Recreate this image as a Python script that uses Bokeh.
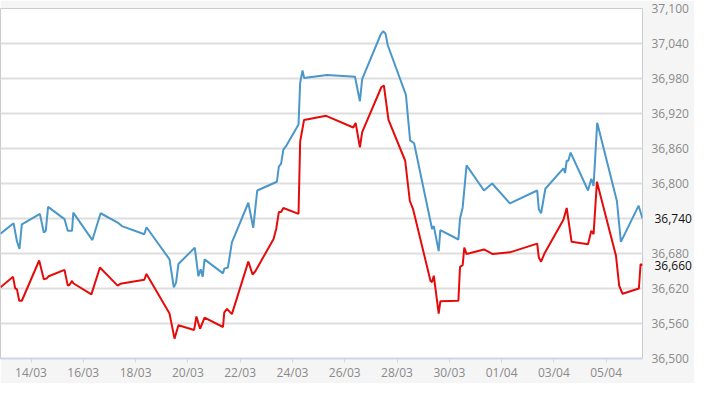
import pandas as pd
from bokeh.plotting import figure
from bokeh.models import (Range1d, FixedTicker, NumeralTickFormatter,
                          DatetimeTickFormatter, LinearAxis, ColumnDataSource)
from bokeh.embed import file_html
from bokeh.resources import INLINE

# ---------------- data ----------------
blue_times = [
    "2018-03-12 20:00", "2018-03-13 08:00", "2018-03-13 11:05", "2018-03-13 13:25",
    "2018-03-13 15:35", "2018-03-14 08:10", "2018-03-14 11:45", "2018-03-14 13:35",
    "2018-03-14 15:40", "2018-03-15 06:45", "2018-03-15 09:45", "2018-03-15 13:40",
    "2018-03-15 14:50", "2018-03-16 08:20", "2018-03-16 11:25", "2018-03-16 15:55",
    "2018-03-17 08:25", "2018-03-17 11:25", "2018-03-18 08:00", "2018-03-18 10:00",
    "2018-03-19 07:10", "2018-03-19 11:05", "2018-03-19 13:10", "2018-03-19 15:20",
    "2018-03-20 06:20", "2018-03-20 09:40", "2018-03-20 11:45", "2018-03-20 13:35",
    "2018-03-20 15:20", "2018-03-21 08:15", "2018-03-21 09:25", "2018-03-21 12:45",
    "2018-03-21 16:25", "2018-03-22 07:30", "2018-03-22 12:00", "2018-03-22 15:40",
    "2018-03-23 09:45", "2018-03-23 11:30", "2018-03-23 13:35", "2018-03-23 15:40",
    "2018-03-23 18:05", "2018-03-24 05:35", "2018-03-24 07:05", "2018-03-24 09:15",
    "2018-03-24 10:40", "2018-03-25 07:50", "2018-03-26 09:25", "2018-03-26 13:55",
    "2018-03-26 16:00", "2018-03-27 08:55", "2018-03-27 11:10", "2018-03-27 13:25",
    "2018-03-27 15:30", "2018-03-28 08:10", "2018-03-28 12:00", "2018-03-28 15:40",
    "2018-03-29 08:10", "2018-03-29 09:45", "2018-03-29 14:15", "2018-03-29 15:45",
    "2018-03-30 08:20", "2018-03-30 09:50", "2018-03-30 12:15", "2018-03-30 15:50",
    "2018-03-31 07:50", "2018-03-31 15:20", "2018-04-01 07:35", "2018-04-02 08:40",
    "2018-04-02 10:10", "2018-04-02 12:15", "2018-04-02 16:10", "2018-04-03 08:45",
    "2018-04-03 10:15", "2018-04-03 11:45", "2018-04-03 13:15", "2018-04-03 15:20",
    "2018-04-04 07:20", "2018-04-04 10:20", "2018-04-04 12:25", "2018-04-04 15:45",
    "2018-04-05 09:50", "2018-04-05 13:30", "2018-04-06 05:45", "2018-04-06 09:20",
]
blue_values = [
    36714, 36732, 36701, 36688, 36730, 36748, 36716, 36719, 36760, 36739,
    36719, 36719, 36750, 36703, 36722, 36749, 36732, 36727, 36713, 36725,
    36670, 36622, 36630, 36662, 36690, 36641, 36653, 36640, 36670, 36646,
    36654, 36656, 36699, 36767, 36724, 36788, 36803, 36829, 36834, 36858,
    36864, 36901, 36973, 36994, 36981, 36986, 36983, 36941, 36979, 37055,
    37061, 37057, 37037, 36952, 36874, 36869, 36722, 36727, 36684, 36720,
    36704, 36740, 36759, 36831, 36788, 36800, 36766, 36788, 36756, 36749,
    36791, 36826, 36818, 36839, 36839, 36853, 36788, 36808, 36796, 36904,
    36770, 36700, 36762, 36740,
]

red_times = [
    "2018-03-12 20:00", "2018-03-13 07:30", "2018-03-13 09:30", "2018-03-13 11:05",
    "2018-03-13 13:10", "2018-03-13 15:35", "2018-03-14 07:30", "2018-03-14 11:45",
    "2018-03-14 14:10", "2018-03-14 16:15", "2018-03-15 06:45", "2018-03-15 09:45",
    "2018-03-15 11:15", "2018-03-15 13:40", "2018-03-15 14:50", "2018-03-16 07:25",
    "2018-03-16 15:15", "2018-03-17 07:30", "2018-03-17 10:00", "2018-03-18 08:00",
    "2018-03-18 10:00", "2018-03-19 07:10", "2018-03-19 11:45", "2018-03-19 15:20",
    "2018-03-20 05:45", "2018-03-20 07:50", "2018-03-20 11:10", "2018-03-20 15:20",
    "2018-03-21 08:15", "2018-03-21 09:25", "2018-03-21 11:55", "2018-03-21 16:25",
    "2018-03-22 07:30", "2018-03-22 11:25", "2018-03-22 14:05", "2018-03-23 06:40",
    "2018-03-23 09:05", "2018-03-23 11:30", "2018-03-23 13:35", "2018-03-23 15:40",
    "2018-03-24 05:35", "2018-03-24 07:05", "2018-03-24 10:40", "2018-03-25 06:55",
    "2018-03-26 07:50", "2018-03-26 10:00", "2018-03-26 13:55", "2018-03-26 16:00",
    "2018-03-27 09:35", "2018-03-27 11:55", "2018-03-27 16:10", "2018-03-28 07:30",
    "2018-03-28 11:45", "2018-03-28 14:45", "2018-03-29 06:45", "2018-03-29 08:10",
    "2018-03-29 09:45", "2018-03-29 14:15", "2018-03-29 15:45", "2018-03-30 08:20",
    "2018-03-30 09:50", "2018-03-30 12:15", "2018-03-30 13:45", "2018-03-30 15:50",
    "2018-03-31 07:50", "2018-03-31 15:55", "2018-04-01 07:35", "2018-04-02 08:40",
    "2018-04-02 10:10", "2018-04-02 12:15", "2018-04-02 15:35", "2018-04-03 08:45",
    "2018-04-03 11:45", "2018-04-03 16:15", "2018-04-04 07:20", "2018-04-04 10:20",
    "2018-04-04 12:25", "2018-04-04 15:30", "2018-04-05 09:00", "2018-04-05 11:55",
    "2018-04-05 15:00", "2018-04-06 06:00", "2018-04-06 07:35", "2018-04-06 09:20",
]
red_values = [
    36622, 36640, 36620, 36619, 36599, 36599, 36668, 36636, 36637, 36641,
    36652, 36625, 36626, 36633, 36629, 36610, 36656, 36625, 36628, 36635,
    36645, 36577, 36534, 36557, 36549, 36572, 36551, 36570, 36554, 36579,
    36585, 36576, 36666, 36644, 36650, 36705, 36722, 36751, 36751, 36758,
    36748, 36872, 36909, 36916, 36896, 36904, 36862, 36888, 36965, 36968,
    36909, 36839, 36770, 36756, 36633, 36631, 36642, 36577, 36598, 36599,
    36657, 36660, 36690, 36679, 36687, 36679, 36682, 36697, 36673, 36666,
    36681, 36738, 36758, 36700, 36696, 36719, 36713, 36803, 36676, 36625,
    36611, 36620, 36662, 36660,
]

x_tick_dates = ["2018-03-14", "2018-03-16", "2018-03-18", "2018-03-20",
                "2018-03-22", "2018-03-24", "2018-03-26", "2018-03-28",
                "2018-03-30", "2018-04-01", "2018-04-03", "2018-04-05"]
y_ticks = [36500, 36560, 36620, 36680, 36740, 36800, 36860,
           36920, 36980, 37040, 37100]

# ---------------- figure ----------------
FONT = "Open Sans"
BLUE = "#4a97c9"
RED = "#e60b0b"
PANEL = "#f5f5f5"
LABEL_GREY = "#8a8a8a"

bt = pd.to_datetime(blue_times)
rt = pd.to_datetime(red_times)
blue_src = ColumnDataSource(dict(t=bt, v=blue_values))
red_src = ColumnDataSource(dict(t=rt, v=red_values))

p = figure(width=694, height=383, x_axis_type="datetime",
           y_axis_location="right", output_backend="svg",
           toolbar_location=None,
           x_range=Range1d(bt[0], bt[-1]),
           y_range=Range1d(y_ticks[0], y_ticks[-1]),
           min_border_left=0, min_border_top=8,
           min_border_right=47, min_border_bottom=16)

p.background_fill_color = "white"
p.border_fill_color = PANEL
p.outline_line_color = "#cccccc"
p.outline_line_width = 1

p.line("t", "v", source=blue_src, line_color=BLUE, line_width=2)
p.line("t", "v", source=red_src, line_color=RED, line_width=2)

# x axis
xt = [pd.Timestamp(d).value // 10**6 for d in x_tick_dates]
xax = p.xaxis[0]
xax.ticker = FixedTicker(ticks=xt, minor_ticks=[])
xax.formatter = DatetimeTickFormatter(days="%d/%m", months="%d/%m",
                                      hours="%d/%m", years="%d/%m")
xax.axis_line_color = "#ccd6eb"
xax.axis_line_width = 2
xax.major_tick_line_color = "#ccd6eb"
xax.major_tick_in = 0
xax.major_tick_out = 4
xax.minor_tick_line_color = None
xax.major_label_standoff = 1
xax.major_label_text_font = FONT
xax.major_label_text_font_size = "12px"
xax.major_label_text_color = LABEL_GREY
p.xgrid.visible = False

# y axis (right), grey tick labels
current_values = [blue_values[-1], red_values[-1]]
yax = p.yaxis[0]
yax.ticker = FixedTicker(ticks=y_ticks, minor_ticks=[])
yax.formatter = NumeralTickFormatter(format="0,0")
yax.major_label_overrides = {v: "" for v in y_ticks if v in current_values}
yax.axis_line_color = None
yax.major_tick_line_color = None
yax.minor_tick_line_color = None
yax.major_tick_in = 0
yax.major_tick_out = 0
yax.major_label_standoff = 9
yax.major_label_text_font = FONT
yax.major_label_text_font_size = "12px"
yax.major_label_text_color = LABEL_GREY
p.ygrid.grid_line_color = "#dedede"
p.ygrid.grid_line_width = 2

# current values of both series, in black; this axis sits outside the grey
# one and its labels are pulled back onto the same column (negative standoff)
cur_axis = LinearAxis(
    ticker=FixedTicker(ticks=current_values, minor_ticks=[]),
    formatter=NumeralTickFormatter(format="0,0"),
    axis_line_color=None, major_tick_line_color=None,
    minor_tick_line_color=None, major_tick_in=0, major_tick_out=0,
    major_label_standoff=-37, major_label_text_font=FONT,
    major_label_text_font_size="12px", major_label_text_color="#111111")
p.add_layout(cur_axis, "right")

open("out.html", "w").write(file_html(p, INLINE))
